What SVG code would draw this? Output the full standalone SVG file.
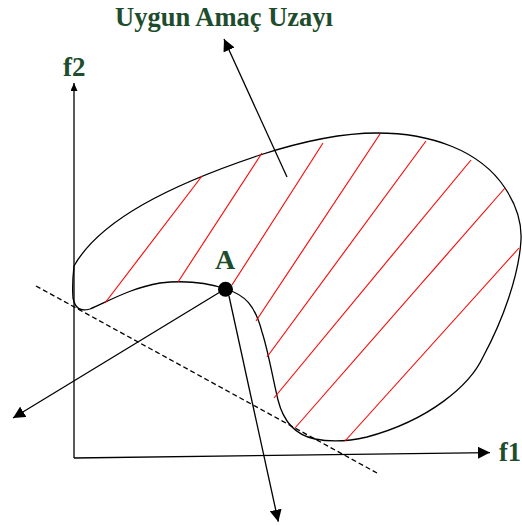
<svg xmlns="http://www.w3.org/2000/svg" width="522" height="526" viewBox="0 0 522 526">
<defs>
<style>
.lbl{font-family:"Liberation Serif","Times New Roman",serif;font-weight:bold;fill:#1e4d2d}
.ln{stroke:#000;stroke-width:1.3;fill:none}
.hatch{stroke:#ff0000;stroke-width:1.1;fill:none}
</style>
<marker id="ah" viewBox="0 0 12 12" refX="12" refY="6" markerWidth="12" markerHeight="12" markerUnits="userSpaceOnUse" orient="auto">
<path d="M0,0 L12,6 L0,12 z" fill="#000"/>
</marker>
<marker id="ahs" viewBox="0 0 8 7" refX="8" refY="3.5" markerWidth="8" markerHeight="7" markerUnits="userSpaceOnUse" orient="auto">
<path d="M0,0 L8,3.5 L0,7 z" fill="#000"/>
</marker>
</defs>
<rect width="522" height="526" fill="#fff"/>
<g id="region">
<path class="ln" d="M74,266 C100,220 170,185 260,155 C300,142 340,133 377,133 C430,133 480,150 505,188 C515,203 522,220 521,240 C519,275 503,320 483,357 C470,385 430,420 367,437 C350,441 330,442 315,439 C295,435 283,420 278,400 C272,375 268,350 262,332 C255,305 245,295 226,289 C205,282 185,280 160,283 C130,288 105,303 90,309 C80,312 75,308 73,298 C72,285 73,275 74,266 Z"/>
<g id="hatching">
<line class="hatch" x1="105" y1="303" x2="202" y2="176"/>
<line class="hatch" x1="178" y1="282" x2="262" y2="153"/>
<line class="hatch" x1="232" y1="285" x2="323" y2="143"/>
<line class="hatch" x1="256" y1="321" x2="380" y2="134"/>
<line class="hatch" x1="267" y1="357" x2="426" y2="141"/>
<line class="hatch" x1="274" y1="398" x2="471" y2="160"/>
<line class="hatch" x1="295" y1="428" x2="505" y2="188"/>
<line class="hatch" x1="345" y1="441" x2="519" y2="248"/>
</g>
</g>
<g id="connectors">
<line class="ln" x1="74" y1="458" x2="74" y2="83" marker-end="url(#ahs)" stroke-width="1.5"/>
<line class="ln" x1="74" y1="458" x2="490" y2="452.6" marker-end="url(#ah)" stroke-width="1.5"/>
<line class="ln" x1="36" y1="286" x2="377" y2="473" stroke-width="1" stroke-dasharray="5,3"/>
<line class="ln" x1="225" y1="289" x2="13" y2="418" marker-end="url(#ah)"/>
<line class="ln" x1="229" y1="296" x2="278.3" y2="521.7" marker-end="url(#ah)"/>
<line class="ln" x1="287" y1="177" x2="224" y2="39" marker-end="url(#ah)"/>
</g>
<g id="point-A">
<circle cx="225.5" cy="289.3" r="7.5" fill="#000"/>
<text class="lbl" x="225" y="269" font-size="28" text-anchor="middle">A</text>
</g>
<g id="label-title">
<text class="lbl" x="115" y="26" font-size="26.5">Uygun Amaç Uzayı</text>
</g>
<g id="label-f2">
<text class="lbl" x="63" y="76" font-size="27">f2</text>
</g>
<g id="label-f1">
<text class="lbl" x="499" y="461" font-size="26.5">f1</text>
</g>
</svg>
